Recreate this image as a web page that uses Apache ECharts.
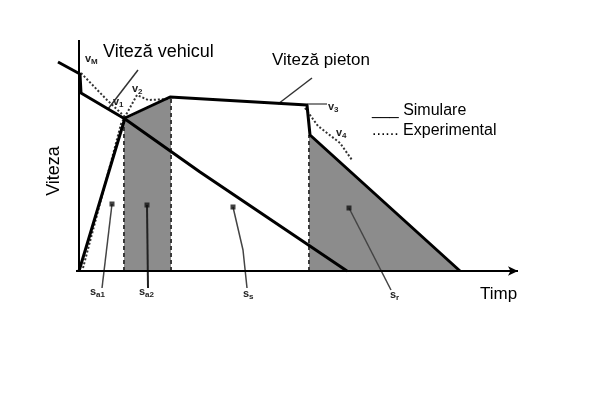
<!DOCTYPE html>
<html><head><meta charset="utf-8">
<script src="https://cdn.jsdelivr.net/npm/echarts@6/dist/echarts.min.js"></script>
<style>html,body{margin:0;padding:0;background:#fff}#c{width:604px;height:393px}</style>
</head><body><div id="c"></div>
<script>
// Values (time units on x, speed units on y)
const vehicleSim = [[-2.1,20.9],[0.1,19.7],[0.2,17.8],[4.6,15.2],[12.1,9.9],[26.8,0]];
const vehicleExp = [[0.2,19.8],[2.8,17.1],[4.6,15.4]];
const pedestrianSim = [[0,0],[4.6,15.3],[9.1,17.4],[22.8,16.6],[23.1,13.6],[38.1,0]];
const pedestrianExp = [[0.4,0.3],[4.2,14.7],[5.8,17.6],[6.9,17.1],[9.1,17.2],null,[22.6,16.3],[23.9,14.5],[26.1,12.8],[27.3,11.1]];
const areaSa2 = [[4.5,15.1],[9.2,17.4]];
const areaSr = [[23.0,13.6],[38.1,0]];
const borderLines = [[4.5,0],[4.5,15.1],null,[9.2,0],[9.2,17.4],null,[23.0,0],[23.0,13.6]];
const pointerVehicle = [[2.9,16.2],[5.9,20.1]];
const pointerPedestrian = [[19.9,16.7],[23.3,19.3]];
const v3Line = [[22.8,16.7],[24.8,16.7]];
const leaderSa1 = [[3.3,6.7],[2.3,-1.7]];
const leaderSa2 = [[6.8,6.6],[6.9,-1.7]];
const leaderSs = [[15.4,6.4],[16.4,2.1],[16.8,-1.7]];
const leaderSr = [[27.0,6.3],[31.2,-1.9]];
const markerDots = [[3.3,6.7],[6.8,6.6],[15.4,6.4],[27.0,6.3]];
const xAxisLine = [[-0.3,0],[43.9,0]];
const yAxisLine = [[0,0],[0,23.1]];

const chart = echarts.init(document.getElementById('c'), null, {renderer:'canvas'});
const FONT = 'Liberation Sans, Arial, sans-serif';
function line(data, color, width, type, z){
  return {type:'line', data, symbol:'none', clip:false, silent:true, connectNulls:false,
    lineStyle:{color, width, type: type||'solid'}, z: z||3};
}
function area(data){
  return {type:'line', data, symbol:'none', clip:false, silent:true,
    lineStyle:{width:0, opacity:0}, areaStyle:{color:'#8c8c8c', opacity:1, origin:0}, z:1};
}
function sub(x, y, main, s){
  return {type:'text', left:x, top:y, z:10, style:{
    text:'{m|'+main+'}{s|'+s+'}', fontFamily:FONT,
    rich:{m:{fontSize:11, fontFamily:FONT, fontWeight:'bold', fill:'#222', color:'#222'},
          s:{fontSize:8, fontFamily:FONT, fontWeight:'bold', fill:'#222', color:'#222', verticalAlign:'bottom', padding:[6,0,0,0]}}}};
}
chart.setOption({
  animation:false,
  backgroundColor:'#fff',
  grid:{left:54, right:86, top:40, bottom:122},
  xAxis:{type:'value', min:-2.5, max:43.9, show:false},
  yAxis:{type:'value', min:0, max:23.1, show:false},
  series:[
    area(areaSa2),
    area(areaSr),
    line(borderLines, '#3a3a3a', 2, [4,3], 2),
    {type:'line', data:xAxisLine, symbol:'none', clip:false, silent:true, lineStyle:{color:'#000', width:2}, z:4,
      markLine:{silent:true, symbol:['none','arrow'], symbolSize:[7,10], label:{show:false}, lineStyle:{color:'#000', width:0.01, type:'solid'},
        data:[[{coord:xAxisLine[1]},{coord:xAxisLine[1]}]]}},
    line(yAxisLine, '#000', 2, 'solid', 4),
    line(pedestrianExp, '#333', 2, 'dotted', 3),
    line(vehicleExp, '#333', 2, 'dotted', 3),
    line(pedestrianSim, '#000', 3, 'solid', 4),
    line(vehicleSim, '#000', 3, 'solid', 5),
    line(pointerVehicle, '#333', 1.5),
    line(pointerPedestrian, '#333', 1.5),
    line(v3Line, '#333', 1.2),
    line(leaderSa1, '#444', 1.5),
    line(leaderSa2, '#222', 2),
    line(leaderSs, '#444', 1.5),
    line(leaderSr, '#444', 1.5),
    {type:'scatter', data:markerDots, symbol:'rect', symbolSize:5, itemStyle:{color:'#111'}, silent:true, z:6}
  ],
  graphic:[
    {type:'text', left:103, top:43, style:{text:'Viteză vehicul', fontFamily:FONT, fontSize:18, fill:'#000'}},
    {type:'text', left:272, top:52, style:{text:'Viteză pieton', fontFamily:FONT, fontSize:17, fill:'#000'}},
    {type:'text', left:372, top:103, style:{text:'___ Simulare', fontFamily:FONT, fontSize:16, fill:'#000'}},
    {type:'text', left:372, top:123, style:{text:'...... Experimental', fontFamily:FONT, fontSize:16, fill:'#000'}},
    {type:'text', left:480, top:286, style:{text:'Timp', fontFamily:FONT, fontSize:17, fill:'#000'}},
    {type:'text', x:63, y:171, rotation:Math.PI/2, style:{text:'Viteza', fontFamily:FONT, fontSize:18, fill:'#000', textAlign:'center', textVerticalAlign:'bottom'}},
    sub(85, 53, 'v', 'M'),
    sub(113, 96, 'v', '1'),
    sub(132, 83, 'v', '2'),
    sub(328, 101, 'v', '3'),
    sub(336, 127, 'v', '4'),
    sub(90, 286, 's', 'a1'),
    sub(139, 286, 's', 'a2'),
    sub(243, 288, 's', 's'),
    sub(390, 289, 's', 'r')
  ]
});
</script></body></html>
